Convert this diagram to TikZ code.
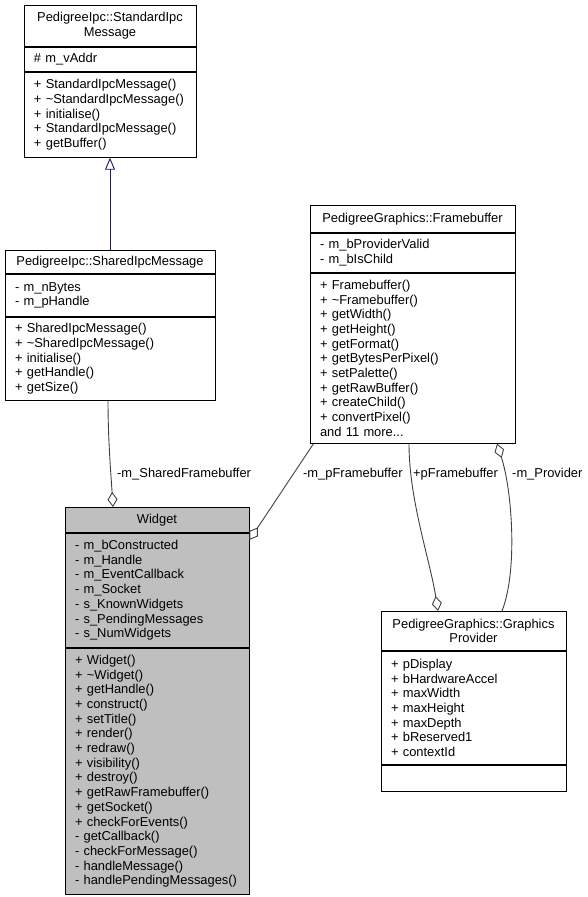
\documentclass[tikz,border=0pt]{standalone}
\usepackage{fontspec}
\setmainfont{Liberation Sans}
\usetikzlibrary{arrows.meta}
\definecolor{midblue}{RGB}{25,25,112}
\tikzset{
	cls/.style={draw=black, line width=0.9pt, anchor=north, inner xsep=10pt, inner ysep=0pt, font=\fontsize{12.9}{14.7}\selectfont},
	hdr/.style={cls, align=center},
	mem/.style={cls, align=left},
	shade/.style={fill=black!25},
	agg/.style={draw=black!75, line width=0.9pt, {Diamond[open, length=15pt, width=10pt]}-},
	inh/.style={draw=midblue, line width=0.9pt, -{Triangle[open, length=12pt, width=10pt]}},
	role/.style={anchor=west, inner sep=0pt, font=\fontsize{12.9}{14.7}\selectfont},
}
\begin{document}
\begin{tikzpicture}[x=1pt, y=-1pt]
	\useasboundingbox (0,0) rectangle (587,897);
	
	% StandardIpcMessage
	\node[hdr, text width=152pt, minimum height=41pt] (stdTitle) at (110,5) {PedigreeIpc::StandardIpc\\Message};
	\node[mem, text width=152pt, minimum height=24pt] (stdAttr) at (stdTitle.south) {\# m\_vAddr};
	\node[mem, text width=152pt, minimum height=85pt] (stdOps) at (stdAttr.south) {+ StandardIpcMessage()\\+ \textasciitilde StandardIpcMessage()\\+ initialise()\\+ StandardIpcMessage()\\+ getBuffer()};
	
	% SharedIpcMessage
	\node[hdr, text width=190pt, minimum height=23pt] (shmTitle) at (110,250) {PedigreeIpc::SharedIpcMessage};
	\node[mem, text width=190pt, minimum height=42pt] (shmAttr) at (shmTitle.south) {- m\_nBytes\\- m\_pHandle};
	\node[mem, text width=190pt, minimum height=83pt] (shmOps) at (shmAttr.south) {+ SharedIpcMessage()\\+ \textasciitilde SharedIpcMessage()\\+ initialise()\\+ getHandle()\\+ getSize()};
	
	% Framebuffer
	\node[hdr, text width=185pt, minimum height=27pt] (fbTitle) at (412.5,205) {PedigreeGraphics::Framebuffer};
	\node[mem, text width=185pt, minimum height=39pt] (fbAttr) at (fbTitle.south) {- m\_bProviderValid\\- m\_bIsChild};
	\node[mem, text width=185pt, minimum height=170pt] (fbOps) at (fbAttr.south) {+ Framebuffer()\\+ \textasciitilde Framebuffer()\\+ getWidth()\\+ getHeight()\\+ getFormat()\\+ getBytesPerPixel()\\+ setPalette()\\+ getRawBuffer()\\+ createChild()\\+ convertPixel()\\and 11 more...};
	
	% Widget
	\node[hdr, shade, text width=164pt, minimum height=25pt] (wdgTitle) at (157,507) {Widget};
	\node[mem, shade, text width=164pt, minimum height=114pt] (wdgAttr) at (wdgTitle.south) {- m\_bConstructed\\- m\_Handle\\- m\_EventCallback\\- m\_Socket\\- s\_KnownWidgets\\- s\_PendingMessages\\- s\_NumWidgets};
	\node[mem, shade, text width=164pt, minimum height=246pt] (wdgOps) at (wdgAttr.south) {+ Widget()\\+ \textasciitilde Widget()\\+ getHandle()\\+ construct()\\+ setTitle()\\+ render()\\+ redraw()\\+ visibility()\\+ destroy()\\+ getRawFramebuffer()\\+ getSocket()\\+ checkForEvents()\\- getCallback()\\- checkForMessage()\\- handleMessage()\\- handlePendingMessages()};
	
	% GraphicsProvider
	\node[hdr, text width=165pt, minimum height=39pt] (gpTitle) at (473.5,611) {PedigreeGraphics::Graphics\\Provider};
	\node[mem, text width=165pt, minimum height=113pt] (gpAttr) at (gpTitle.south) {+ pDisplay\\+ bHardwareAccel\\+ maxWidth\\+ maxHeight\\+ maxDepth\\+ bReserved1\\+ contextId};
	\node[mem, text width=165pt, minimum height=26pt] (gpOps) at (gpAttr.south) {};
	
	% connectors
	\draw[inh] (shmTitle.north) -- (stdOps.south);
	\draw[agg] ([xshift=-44pt]wdgTitle.north) .. controls (111,475) and (108,440) .. ([xshift=-2pt]shmOps.south);
	\draw[agg] ([yshift=-7pt]wdgAttr.north east) -- ([xshift=4pt]fbOps.south west);
	\draw[agg] ([xshift=-35.5pt]gpTitle.north) .. controls (430,560) and (409,500) .. ([xshift=-3.5pt]fbOps.south);
	\draw[agg] ([xshift=84.5pt]fbOps.south) .. controls (512,490) and (518,570) .. ([xshift=28.5pt]gpTitle.north);
	
	\node[role] (lblShared) at (117,474) {-m\_SharedFramebuffer};
	\node[role] (lblPFb) at (303,474) {-m\_pFramebuffer};
	\node[role] (lblPlusFb) at (413,474) {+pFramebuffer};
	\node[role] (lblProv) at (512,474) {-m\_Provider};
\end{tikzpicture}
\end{document}
